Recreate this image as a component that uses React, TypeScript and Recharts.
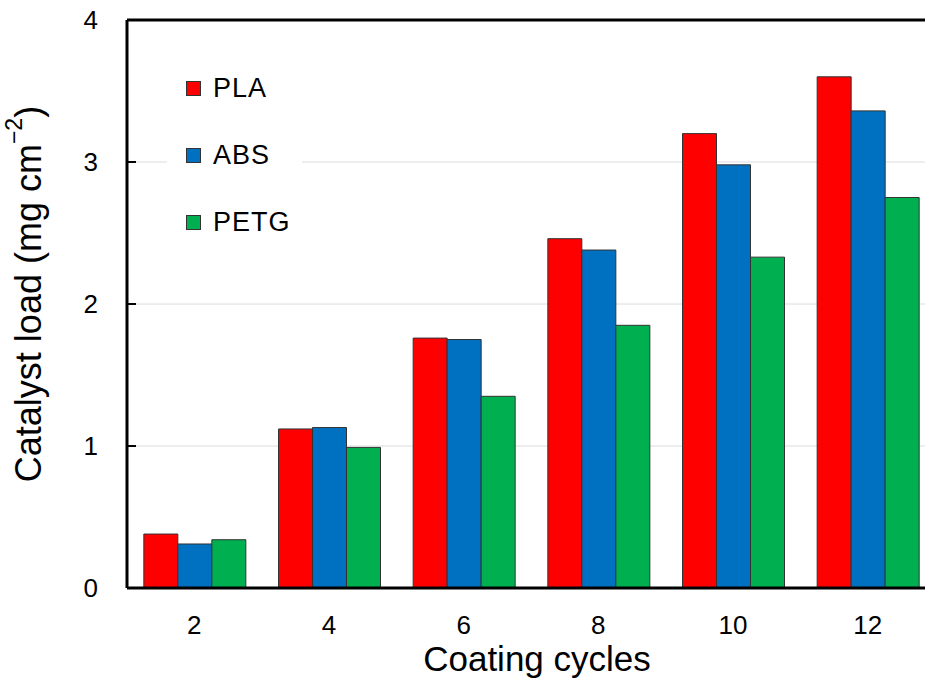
import React from 'react';
import {
  BarChart,
  Bar,
  XAxis,
  YAxis,
  CartesianGrid,
  Legend,
  ReferenceLine,
  Label,
} from 'recharts';

const cycles = ['2', '4', '6', '8', '10', '12'];
const pla = [0.38, 1.12, 1.76, 2.46, 3.2, 3.6];
const abs = [0.31, 1.13, 1.75, 2.38, 2.98, 3.36];
const petg = [0.34, 0.99, 1.35, 1.85, 2.33, 2.75];
const yTicks = [0, 1, 2, 3, 4];

const SERIES = [
  { key: 'PLA', color: '#ff0000' },
  { key: 'ABS', color: '#0070c0' },
  { key: 'PETG', color: '#00b050' },
];

const FONT = '"Liberation Sans", Arial, Helvetica, sans-serif';

const data = cycles.map((c, i) => ({
  cycle: c,
  PLA: pla[i],
  ABS: abs[i],
  PETG: petg[i],
}));

// y tick: label on the left, short tick pointing into the plot
function YTick(props: any) {
  const { x, y, payload } = props;
  const axisX = x + 29;
  return (
    <g>
      <line x1={axisX} x2={axisX + 9} y1={y} y2={y} stroke="#000" strokeWidth={2} />
      <text x={x} y={y} dy="0.36em" textAnchor="end" fontSize={26} fontFamily={FONT} fill="#000">
        {payload.value}
      </text>
    </g>
  );
}

function LegendBox() {
  return (
    <div
      style={{
        background: '#fff',
        width: 116,
        padding: '4px 0 4px 19px',
        fontFamily: FONT,
        fontSize: 27,
        letterSpacing: 1,
        color: '#000',
      }}
    >
      {SERIES.map((s) => (
        <div key={s.key} style={{ display: 'flex', alignItems: 'center', height: 67 }}>
          <span
            style={{
              display: 'inline-block',
              width: 13,
              height: 13,
              background: s.color,
              border: '1px solid #333',
              marginRight: 12,
            }}
          />
          {s.key}
        </div>
      ))}
    </div>
  );
}

function YLabel() {
  const cx = 28;
  const cy = 294;
  return (
    <text
      x={cx}
      y={cy}
      transform={`rotate(-90, ${cx}, ${cy})`}
      textAnchor="middle"
      dominantBaseline="central"
      fontSize={36}
      fontFamily={FONT}
      fill="#000"
    >
      Catalyst load (mg cm
      <tspan fontSize={23} dy={-14}>−2</tspan>
      <tspan dy={14}>)</tspan>
    </text>
  );
}

export default function App() {
  return (
    <div
      style={{
        position: 'fixed',
        left: 0,
        top: 0,
        width: 925,
        height: 688,
        overflow: 'hidden',
        background: '#fff',
      }}
    >
      <BarChart
        width={960}
        height={688}
        data={data}
        margin={{ top: 20, right: 25, left: 0, bottom: 40 }}
        barCategoryGap="12.5%"
        barGap={0}
      >
        <CartesianGrid vertical={false} stroke="#dcdcdc" strokeWidth={1} />
        <XAxis
          dataKey="cycle"
          height={60}
          tickLine={false}
          tickSize={0}
          tickMargin={28}
          axisLine={{ stroke: '#000', strokeWidth: 3 }}
          tick={{ fontSize: 26, fontFamily: FONT, fill: '#000' }}
        >
          <Label
            value="Coating cycles"
            position="insideBottom"
            offset={-23}
            dx={6}
            style={{ fontSize: 35, fontFamily: FONT, fill: '#000' }}
          />
        </XAxis>
        <YAxis
          width={127}
          domain={[0, 4]}
          ticks={yTicks}
          interval={0}
          tickLine={false}
          tickSize={0}
          tickMargin={29}
          axisLine={{ stroke: '#000', strokeWidth: 3 }}
          tick={YTick}
        >
          <Label content={YLabel} />
        </YAxis>
        <ReferenceLine y={4} stroke="#000" strokeWidth={3} />
        <Legend
          layout="vertical"
          verticalAlign="middle"
          align="center"
          content={<LegendBox />}
          wrapperStyle={{ left: 167, top: 51, width: 'auto' }}
        />
        {SERIES.map((s) => (
          <Bar
            key={s.key}
            dataKey={s.key}
            fill={s.color}
            stroke="#333"
            strokeWidth={1}
            isAnimationActive={false}
          />
        ))}
      </BarChart>
    </div>
  );
}
